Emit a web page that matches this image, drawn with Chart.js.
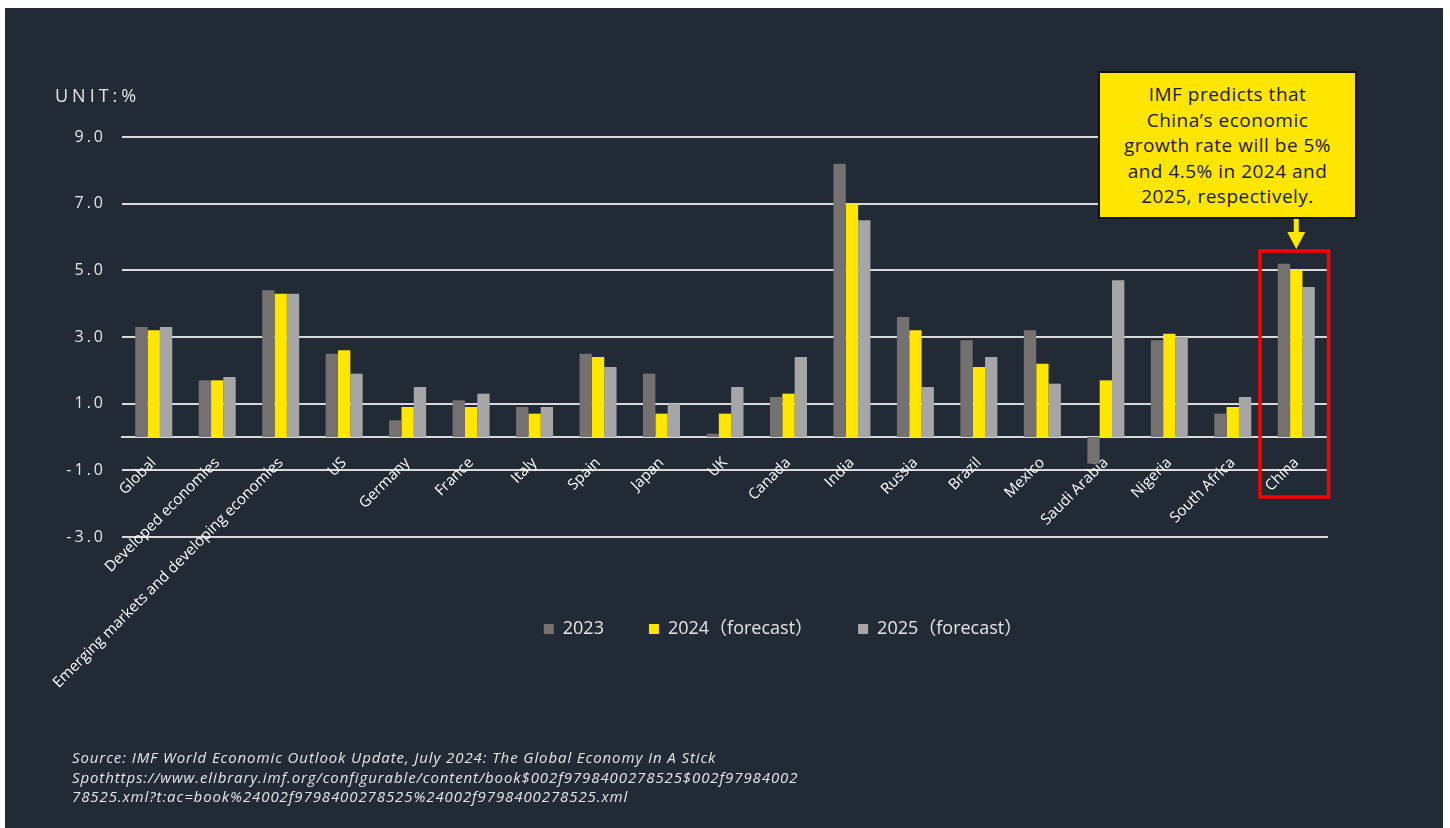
<!DOCTYPE html>
<html>
<head>
<meta charset="utf-8">
<script src="https://cdn.jsdelivr.net/npm/chart.js"></script>
<style>
  html, body { margin: 0; padding: 0; width: 1450px; height: 828px; overflow: hidden; background: #fff; }
  #panel { position: absolute; left: 5px; top: 8px; width: 1438px; height: 820px; background: #222a36; }
  #wrap { position: absolute; left: 52px; top: 0; width: 1398px; height: 828px; }
  #unit { position: absolute; left: 55px; top: 84px; font: 18px 'Open Sans', sans-serif; line-height: 22px;
          letter-spacing: 4px; color: #e6e6e6; }
  #callout { position: absolute; left: 1098px; top: 71px; width: 259px; height: 148px; box-sizing: border-box;
             border: 2px solid #111; background: #ffe600; color: #1a1a1a; text-align: center;
             font: 19px 'Open Sans', sans-serif; letter-spacing: 0.5px; line-height: 25.5px; padding-top: 9px; }
  #source { position: absolute; left: 72px; top: 748px; font: italic 15px 'Open Sans', sans-serif;
            letter-spacing: 0.9px; line-height: 19.5px; color: #e6e6e6; white-space: nowrap; }
</style>
</head>
<body>
<div id="panel"></div>
<div id="wrap"><canvas id="chart" width="1398" height="828"></canvas></div>
<div id="unit">UNIT:%</div>
<div id="callout">IMF predicts that<br>China’s economic<br>growth rate will be 5%<br>and 4.5% in 2024 and<br>2025, respectively.</div>
<div id="source">Source: IMF World Economic Outlook Update, July 2024: The Global Economy In A Stick<br>Spothttps://www.elibrary.imf.org/configurable/content/book$002f9798400278525$002f97984002<br>78525.xml?t:ac=book%24002f9798400278525%24002f9798400278525.xml</div>
<script>
// categories and values (%)
const categories = ['Global', 'Developed economies', 'Emerging markets and developing economies', 'US',
  'Germany', 'France', 'Italy', 'Spain', 'Japan', 'UK', 'Canada', 'India', 'Russia', 'Brazil', 'Mexico',
  'Saudi Arabia', 'Nigeria', 'South Africa', 'China'];
const seriesNames = ['2023', '2024（forecast）', '2025（forecast）'];
const values2023 = [3.3, 1.7, 4.4, 2.5, 0.5, 1.1, 0.9, 2.5, 1.9, 0.1, 1.2, 8.2, 3.6, 2.9, 3.2, -0.8, 2.9, 0.7, 5.2];
const values2024 = [3.2, 1.7, 4.3, 2.6, 0.9, 0.9, 0.7, 2.4, 0.7, 0.7, 1.3, 7.0, 3.2, 2.1, 2.2, 1.7, 3.1, 0.9, 5.0];
const values2025 = [3.3, 1.8, 4.3, 1.9, 1.5, 1.3, 0.9, 2.1, 1.0, 1.5, 2.4, 6.5, 1.5, 2.4, 1.6, 4.7, 3.0, 1.2, 4.5];
const yMin = -3;
const yMax = 9;
const yStep = 2;
const highlighted = 'China';

const colors = ['#767171', '#ffe600', '#a6a6a6'];
const gridColor = '#d9d9d9';

// red frame round the highlighted group + yellow arrow from the callout
const highlight = {
  id: 'highlight',
  afterLayout(chart) {
    chart.legend.left += 93;
    chart.legend.right += 93;
    const y = chart.scales.y;
    if (!y._spaced) {
      const orig = y.drawLabels;
      y.drawLabels = function (area) {
        this.ctx.save();
        this.ctx.letterSpacing = '3px';
        orig.call(this, area);
        this.ctx.restore();
      };
      y._spaced = true;
    }
  },
  afterDraw(chart) {
    const { ctx, scales: { x, y } } = chart;
    const i = categories.indexOf(highlighted);
    const cx = x.getPixelForValue(i);
    const half = (x.getPixelForValue(1) - x.getPixelForValue(0)) * 0.54;
    const top = y.getPixelForValue(5.58);
    const bottom = y.getPixelForValue(-1.8);
    ctx.save();
    ctx.strokeStyle = '#ff0000';
    ctx.lineWidth = 3.5;
    ctx.strokeRect(cx - half - 2, top, half * 2, bottom - top);
    ctx.fillStyle = '#ffe600';
    ctx.fillRect(cx - 2.5, 219, 5, 14);
    ctx.beginPath();
    ctx.moveTo(cx - 9, 232);
    ctx.lineTo(cx + 9, 232);
    ctx.lineTo(cx, top - 2);
    ctx.closePath();
    ctx.fill();
    ctx.restore();
  }
};

new Chart(document.getElementById('chart'), {
  type: 'bar',
  data: {
    labels: categories,
    datasets: [values2023, values2024, values2025].map((d, k) => ({
      label: seriesNames[k],
      data: d,
      backgroundColor: colors[k],
      borderWidth: 0,
      categoryPercentage: 0.583,
      barPercentage: 1.0
    }))
  },
  options: {
    responsive: false,
    animation: false,
    layout: { padding: { top: 137, left: 0, right: 122, bottom: 180 } },
    plugins: {
      tooltip: { enabled: false },
      legend: {
        position: 'bottom',
        labels: {
          boxWidth: 10, boxHeight: 10, padding: 45, color: '#e6e6e6',
          font: { family: "'Open Sans', 'Noto Sans CJK SC', sans-serif", size: 18 }
        }
      }
    },
    scales: {
      x: {
        position: { y: 0 },
        grid: { display: false },
        border: { display: true, color: gridColor, width: 2 },
        ticks: {
          color: '#ffffff', autoSkip: false, minRotation: 45, maxRotation: 45, padding: 9,
          font: { family: "'Open Sans', sans-serif", size: 15 }
        }
      },
      pad: {
        axis: 'x', type: 'category', position: 'bottom',
        grid: { display: false }, border: { display: false }, ticks: { display: false },
        afterFit(s) { s.height = 38; }
      },
      y: {
        min: yMin, max: yMax,
        grid: { color: gridColor, lineWidth: 2, drawTicks: false },
        border: { display: false },
        ticks: {
          stepSize: yStep, padding: 16, color: '#e6e6e6',
          font: { family: "'Open Sans', sans-serif", size: 16 },
          callback: v => v.toFixed(1)
        },
        afterFit(s) { s.width = 70; }
      }
    }
  },
  plugins: [highlight]
});
</script>
</body>
</html>
